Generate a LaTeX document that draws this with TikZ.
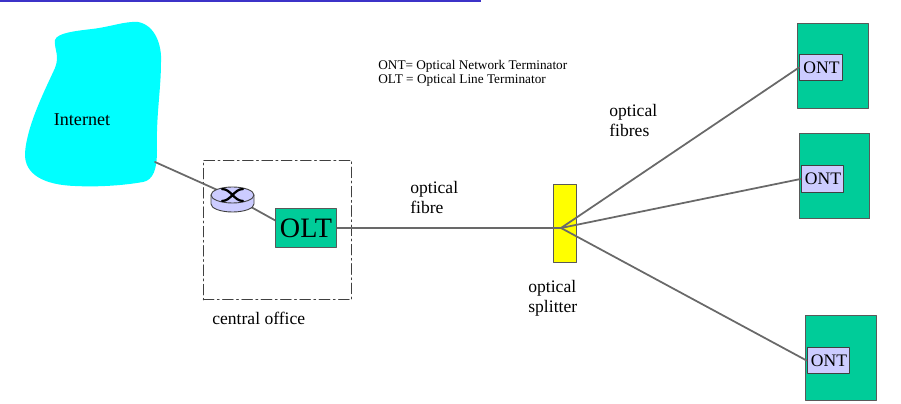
\documentclass[tikz,border=0pt]{standalone}
\usepackage{fontspec}
\setmainfont{Liberation Serif}
\definecolor{boxgreen}{RGB}{0,204,153}
\definecolor{boxlilac}{RGB}{204,204,255}
\definecolor{linegray}{RGB}{105,105,105}
\definecolor{titleblue}{RGB}{60,50,200}
\definecolor{cloudcyan}{RGB}{0,255,255}
\definecolor{splityellow}{RGB}{255,255,0}
\tikzset{
	greenbox/.style={draw=black!65, fill=boxgreen, line width=0.6pt, inner sep=0pt},
	ontlabel/.style={draw=black!75, fill=boxlilac, line width=0.6pt, inner sep=0pt, minimum width=24.4pt, minimum height=15pt, font=\fontsize{10}{11}\selectfont},
	fibre/.style={draw=linegray, line width=1pt},
	caption/.style={inner sep=0pt, align=left, font=\fontsize{10}{11.3}\selectfont}
}
\begin{document}
\begin{tikzpicture}[x=0.02cm, y=-0.02cm, line join=round, line cap=round]
			\useasboundingbox (0,0) rectangle (901,404);
			\fill[titleblue] (0,0) rectangle (481,2);
			% cloud
			\fill[cloudcyan]
			(55,40) .. controls (57,33) and (75,31) .. (92,29)
			.. controls (110,27) and (125,21) .. (138,22)
			.. controls (155,25) and (162,45) .. (161,62)
			.. controls (161,90) and (156,115) .. (157,150)
			.. controls (157,170) and (153,180) .. (143,182)
			.. controls (120,186) and (95,187) .. (75,186)
			.. controls (45,185) and (24,175) .. (25,153)
			.. controls (27,125) and (45,90) .. (55,68)
			.. controls (60,55) and (54,50) .. (55,40) -- cycle;
			\node[inner sep=0pt, font=\fontsize{10.3}{11}\selectfont] (internet) at (82,120) {Internet};
			\coordinate (cloudport) at (155,162);
			% central office
			\node[draw=black!75, line width=0.6pt, dash pattern=on 6pt off 2pt on 1pt off 2pt, minimum width=84.5pt, minimum height=79.4pt, inner sep=0pt] (office) at (277.5,230) {};
			\node[caption, anchor=west] (officename) at (212,318) {central office};
			% router
			\coordinate (router) at (233,197);
			\coordinate (oltport) at (278,222);
			\draw[fibre] (cloudport)--(router)--(oltport);
			\draw[draw=black!75, fill=boxlilac, line width=0.5pt]
			(211,195) -- (211,204) arc[start angle=180, end angle=360, x radius=21.5, y radius=-8] -- (254,195);
			\draw[draw=black!75, fill=boxlilac, line width=0.5pt] (232.5,195) ellipse (21.5 and 8);
			\draw[line width=1.3pt]
			(222,189) .. controls (231,189) and (234,201) .. (243,201)
			(222,201) .. controls (231,201) and (234,189) .. (243,189);
			% OLT
			\node[greenbox, minimum width=35pt, minimum height=22pt, font=\fontsize{16}{18}\selectfont] (olt) at (306,228) {OLT};
			% splitter
			\node[draw=black!65, fill=splityellow, line width=0.6pt, minimum width=13.6pt, minimum height=44.8pt, inner sep=0pt] (splitter) at (565,223.5) {};
			\coordinate (splitpoint) at (561,228);
			\node[caption, anchor=north west] (splittername) at (528,280) {optical\\splitter};
			% ONT units
			\node[greenbox, minimum width=40.2pt, minimum height=48.5pt] (unita) at (833,66) {};
			\node[ontlabel] (onta) at (821,67.5) {\hspace{0.5pt}ONT};
			\node[greenbox, minimum width=40.2pt, minimum height=48.5pt] (unitb) at (834.5,176) {};
			\node[ontlabel] (ontb) at (822.5,179) {\hspace{0.5pt}ONT};
			\node[greenbox, minimum width=40.2pt, minimum height=48.5pt] (unitc) at (841,358) {};
			\node[ontlabel] (ontc) at (828.5,360.5) {\hspace{0.5pt}ONT};
			% fibres
			\draw[fibre] (olt.east)--(splitpoint);
			\draw[fibre] (splitpoint)--(onta.west);
			\draw[fibre] (splitpoint)--(ontb.west);
			\draw[fibre] (splitpoint)--(ontc.west);
			% labels
			\node[caption, anchor=north west] (fibrename) at (410,181) {optical\\fibre};
			\node[caption, anchor=north west] (fibresname) at (609,104) {optical\\fibres};
			\node[inner sep=0pt, align=left, anchor=north west, font=\fontsize{7.55}{7.9}\selectfont] (legend) at (378,60) {ONT= Optical Network Terminator\\OLT = Optical Line Terminator};
		\end{tikzpicture}
\end{document}
